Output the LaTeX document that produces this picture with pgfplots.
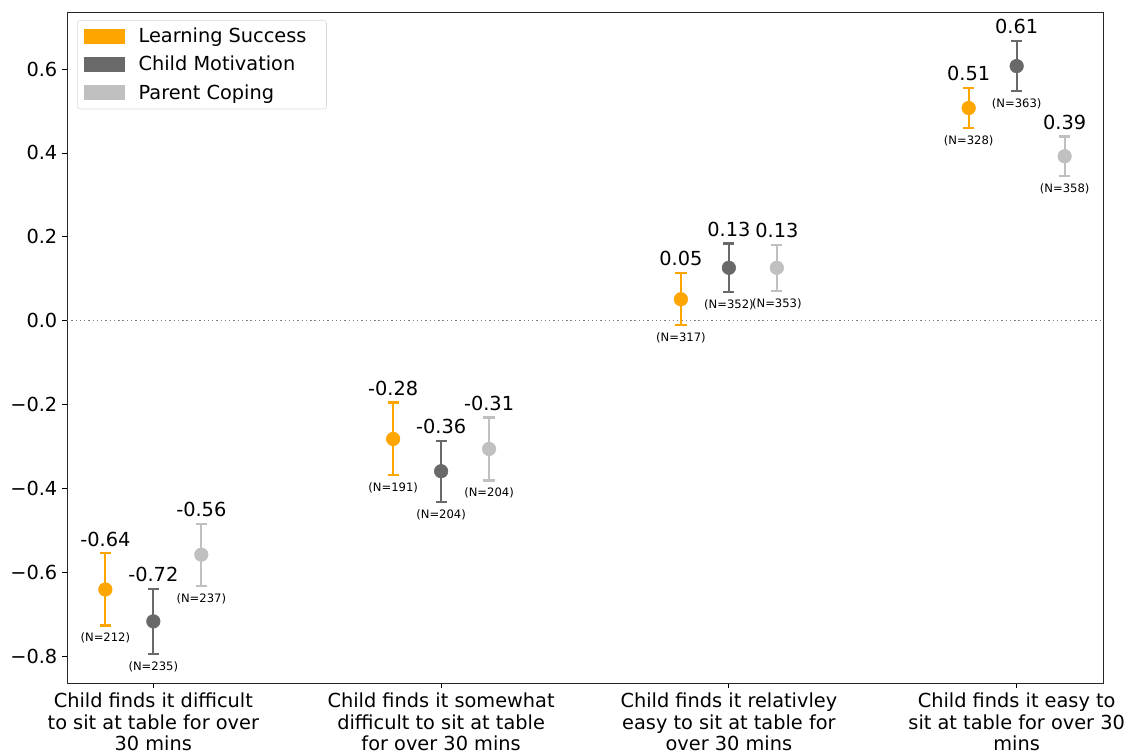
\documentclass[border=0pt]{standalone}
\usepackage{fontspec}
\setmainfont{DejaVu Sans}
\usepackage{pgfplots}
\pgfplotsset{compat=1.18}
\usepackage{pgfplotstable}
\definecolor{lsc}{HTML}{FFA500}
\definecolor{cmc}{HTML}{696969}
\definecolor{pcc}{HTML}{C0C0C0}

\pgfplotstableread{
x y e t b lab n
-0.1667 -0.641 0.086 -0.555 -0.727 -0.64 (N=212)
0.8333 -0.282 0.087 -0.195 -0.369 -0.28 (N=191)
1.8333 0.051 0.062 0.113 -0.011 0.05 (N=317)
2.8333 0.507 0.047 0.554 0.460 0.51 (N=328)
}\LS
\pgfplotstableread{
x y e t b lab n
0 -0.717 0.077 -0.640 -0.794 -0.72 (N=235)
1 -0.359 0.073 -0.286 -0.432 -0.36 (N=204)
2 0.126 0.058 0.184 0.068 0.13 (N=352)
3 0.607 0.060 0.667 0.547 0.61 (N=363)
}\CM
\pgfplotstableread{
x y e t b lab n
0.1667 -0.558 0.074 -0.484 -0.632 -0.56 (N=237)
1.1667 -0.306 0.075 -0.231 -0.381 -0.31 (N=204)
2.1667 0.126 0.055 0.181 0.071 0.13 (N=353)
3.1667 0.392 0.047 0.439 0.345 0.39 (N=358)
}\PC

\pgfplotsset{
  ptstyle/.style={only marks, mark=*, mark size=5.1pt, color=#1, forget plot,
    error bars/.cd, y dir=both, y explicit,
    error bar style={line width=1.6pt, color=#1},
    error mark options={rotate=90, mark size=4.2pt, line width=1.6pt, color=#1}},
  toplab/.style={draw=none, mark=none, forget plot, nodes near coords, point meta=explicit symbolic,
    nodes near coords style={anchor=base, yshift=5.5pt, text=black, font=\fontsize{14.5}{17}\selectfont}},
  botlab/.style={draw=none, mark=none, forget plot, nodes near coords, point meta=explicit symbolic,
    nodes near coords style={anchor=north, inner sep=0pt, yshift=-5.5pt, text=black, font=\fontsize{8.7}{10}\selectfont}},
}

\begin{document}
\begin{tikzpicture}
\useasboundingbox (0,0) rectangle (846pt,565.5pt);
\begin{axis}[
  at={(50.25pt,53.25pt)}, anchor=south west,
  scale only axis, width=777pt, height=503.25pt,
  xmin=-0.3, xmax=3.3, ymin=-0.864, ymax=0.736,
  xtick={0,1,2,3},
  xticklabels={{Child finds it difficult\\to sit at table for over\\30 mins},
               {Child finds it somewhat\\difficult to sit at table\\for over 30 mins},
               {Child finds it relativley\\easy to sit at table for\\over 30 mins},
               {Child finds it easy to\\sit at table for over 30\\mins}},
  ytick={-0.8,-0.6,-0.4,-0.2,0,0.2,0.4,0.6},
  yticklabels={−0.8,−0.6,−0.4,−0.2,0.0,0.2,0.4,0.6},
  tick align=outside, major tick length=3.75pt,
  tick style={black, line width=0.6pt},
  axis line style={line width=0.6pt, black!85},
  xtick pos=bottom, ytick pos=left,
  ticklabel style={font=\fontsize{14.5}{16.2}\selectfont},
  xticklabel style={align=center, yshift=0pt},
  legend cell align=left,
  legend image code/.code={\fill[#1, draw=none, sharp corners] (0pt,-5.5pt) rectangle (31pt,5.5pt);},
  legend style={at={(0,1)}, xshift=7.5pt, yshift=-6pt, anchor=north west,
    draw=black!15, rounded corners=2pt, font=\fontsize{14.5}{16}\selectfont,
    inner xsep=5pt, inner ysep=4pt, row sep=4.5pt,
    nodes={inner xsep=10pt}},
  clip=false,
]
\addlegendimage{fill=lsc}
\addlegendentry{Learning Success}
\addlegendimage{fill=cmc}
\addlegendentry{Child Motivation}
\addlegendimage{fill=pcc}
\addlegendentry{Parent Coping}

\addplot[forget plot, gray, line width=1pt, dash pattern=on 1pt off 2.2pt] coordinates {(-0.3,0) (3.3,0)};

\addplot[ptstyle=lsc] table[x=x, y=y, y error=e]{\LS};
\addplot[ptstyle=cmc] table[x=x, y=y, y error=e]{\CM};
\addplot[ptstyle=pcc] table[x=x, y=y, y error=e]{\PC};

\addplot[toplab] table[x=x, y=t, meta=lab]{\LS};
\addplot[toplab] table[x=x, y=t, meta=lab]{\CM};
\addplot[toplab] table[x=x, y=t, meta=lab]{\PC};
\addplot[botlab] table[x=x, y=b, meta=n]{\LS};
\addplot[botlab] table[x=x, y=b, meta=n]{\CM};
\addplot[botlab] table[x=x, y=b, meta=n]{\PC};
\end{axis}
\end{tikzpicture}
\end{document}
